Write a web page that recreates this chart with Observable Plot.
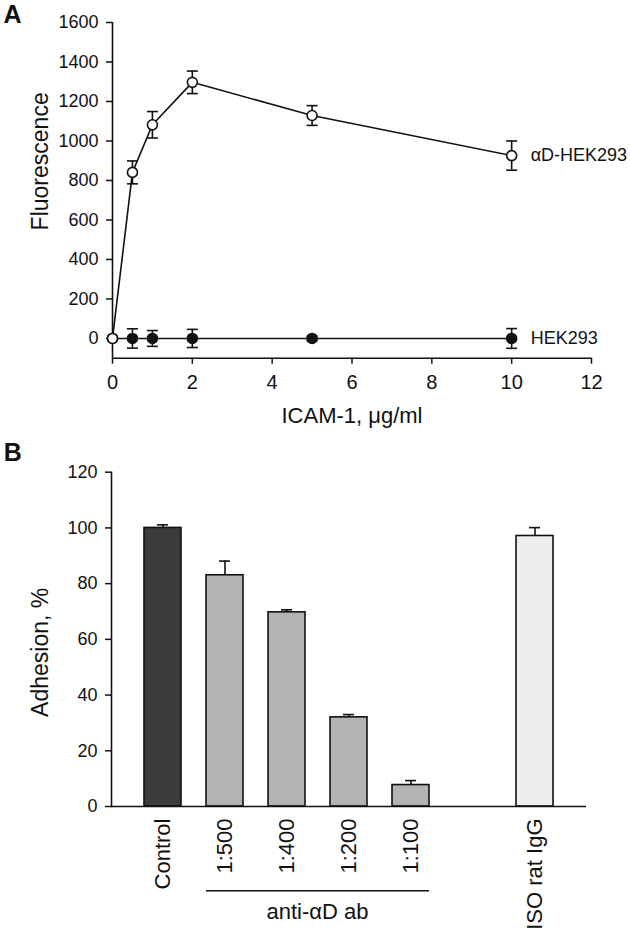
<!DOCTYPE html>
<html><head><meta charset="utf-8">
<script src="https://cdn.jsdelivr.net/npm/d3@7"></script>
<script src="https://cdn.jsdelivr.net/npm/@observablehq/plot@0.6"></script>
<style>
body{margin:0;background:#fff;}
#wrap{width:630px;}
#wrap svg{display:block;}
</style></head><body><div id="wrap"></div>
<script>
// ---------- Panel A data ----------
const concentration = [0, 0.5, 1, 2, 5, 10];
const adFluor = [0, 841, 1082, 1297, 1129, 926];
const adErr   = [8, 58, 67, 57, 50, 74];
const hekFluor = [0, 0, 0, 0, 0, 0];
const hekErr   = [8, 49, 40, 46, 12, 50];
const seriesNames = ["αD-HEK293", "HEK293"];
const xTicksA = [0, 2, 4, 6, 8, 10, 12];
const yTicksA = [0, 200, 400, 600, 800, 1000, 1200, 1400, 1600];

// ---------- Panel B data ----------
const groups = ["Control", "1:500", "1:400", "1:200", "1:100", "ISO rat IgG"];
const adhesion = [100, 83, 69.7, 32, 7.7, 97.1];
const adhesionErr = [1.1, 5.1, 0.9, 1.0, 1.6, 3.0];
const groupFill = ["#3b3b3b", "#b3b3b3", "#b3b3b3", "#b3b3b3", "#b3b3b3", "#eeeeee"];
const antibodyGroups = ["1:500", "1:400", "1:200", "1:100"];
const yTicksB = [0, 20, 40, 60, 80, 100, 120];

const FONT = "'Liberation Sans', Arial, Helvetica, sans-serif";
const INK = "#111";
const plain = d3.format("d");

const ad = concentration.map((x, i) => ({x, y: adFluor[i], e: adErr[i]}));
const hek = concentration.map((x, i) => ({x, y: hekFluor[i], e: hekErr[i]}));
const lastLabels = [
  {...ad[ad.length - 1], name: seriesNames[0]},
  {...hek[hek.length - 1], name: seriesNames[1]}
];

const cap = {draw(ctx, size) { const r = Math.sqrt(size / Math.PI); ctx.moveTo(-r, 0); ctx.lineTo(r, 0); }};

function seriesMarks(data, fill) {
  return [
    Plot.line(data, {x: "x", y: "y", stroke: INK, strokeWidth: 1.6}),
    Plot.ruleX(data, {x: "x", y1: d => d.y - d.e, y2: d => d.y + d.e, stroke: INK, strokeWidth: 1.6}),
    Plot.dot(data, {x: "x", y: d => d.y - d.e, symbol: cap, r: 5.5, fill: "none", stroke: INK, strokeWidth: 1.6}),
    Plot.dot(data, {x: "x", y: d => d.y + d.e, symbol: cap, r: 5.5, fill: "none", stroke: INK, strokeWidth: 1.6}),
    Plot.dot(data, {x: "x", y: "y", r: 5, fill, stroke: INK, strokeWidth: 1.6})
  ];
}

const chartA = Plot.plot({
  width: 630, height: 430,
  marginLeft: 112, marginRight: 39, marginTop: 22, marginBottom: 72.3,
  style: {fontFamily: FONT, color: INK, background: "#fff"},
  x: {domain: [0, 12]},
  y: {domain: [-100, 1600]},
  marks: [
    Plot.ruleX([0], {y1: -100, y2: 1600, stroke: INK, strokeWidth: 1.6}),
    Plot.ruleY([-100], {x1: 0, x2: 12, stroke: INK, strokeWidth: 1.6}),
    Plot.axisY({ticks: yTicksA, tickFormat: plain, tickSize: 6, tickPadding: 8, fontSize: 18, strokeWidth: 1.5, label: null}),
    Plot.axisX({ticks: xTicksA, tickFormat: plain, tickSize: 6, tickPadding: 11, fontSize: 20, strokeWidth: 1.5, label: null}),
    ...seriesMarks(hek, INK),
    ...seriesMarks(ad, "#fff"),
    Plot.text(lastLabels, {x: "x", y: "y", text: "name", dx: 19, textAnchor: "start", fontSize: 18, fill: INK}),
    Plot.text(["Fluorescence"], {frameAnchor: "left", textAnchor: "middle", lineAnchor: "middle", rotate: -90, dx: -72, dy: -29, fontSize: 23, fill: INK}),
    Plot.text(["ICAM-1, μg/ml"], {frameAnchor: "bottom", textAnchor: "middle", lineAnchor: "middle", dy: 57.5, fontSize: 22, fill: INK}),
    Plot.text(["A"], {frameAnchor: "top-left", lineAnchor: "top", textAnchor: "start", dx: -109, dy: -17, fontSize: 25, fontWeight: "bold", fill: INK})
  ]
});

const bars = groups.map((g, i) => ({g, v: adhesion[i], e: adhesionErr[i], fill: groupFill[i]}));
const xDomainB = [...groups.slice(0, 5), " ", groups[5]];

const chartB = Plot.plot({
  width: 630, height: 511,
  marginLeft: 111, marginRight: 44, marginTop: 41.7, marginBottom: 135,
  style: {fontFamily: FONT, color: INK, background: "#fff"},
  x: {domain: xDomainB, paddingInner: 0.4, paddingOuter: 0.523},
  y: {domain: [0, 120]},
  marks: [
    Plot.frame({anchor: "left", stroke: INK, strokeWidth: 1.6}),
    Plot.ruleX(bars, {x: "g", y1: "v", y2: d => d.v + d.e, stroke: INK, strokeWidth: 1.6}),
    Plot.tickY(bars, {x: "g", y: d => d.v + d.e, insetLeft: 13, insetRight: 13, stroke: INK, strokeWidth: 1.6}),
    Plot.barY(bars, {x: "g", y: "v", fill: "fill", stroke: INK, strokeWidth: 1.6}),
    Plot.ruleY([0], {stroke: INK, strokeWidth: 1.6}),
    Plot.axisY({ticks: yTicksB, tickFormat: plain, tickSize: 6, tickPadding: 8, fontSize: 18, strokeWidth: 1.5, label: null}),
    Plot.axisX({ticks: groups, tickSize: 0, tickPadding: 12, tickRotate: -90, fontSize: 22, label: null}),
    Plot.text(["Adhesion, %"], {frameAnchor: "left", textAnchor: "middle", lineAnchor: "middle", rotate: -90, dx: -71, dy: 13, fontSize: 23, fill: INK}),
    Plot.text(["B"], {frameAnchor: "top-left", lineAnchor: "top", textAnchor: "start", dx: -107.7, dy: -28.5, fontSize: 25, fontWeight: "bold", fill: INK})
  ]
});

// bracket under the antibody dilutions, placed with the plot's own x scale
(function () {
  const sx = chartB.scale("x");
  const xs = antibodyGroups.map(g => sx.apply(g));
  const left = Math.min(...xs), right = Math.max(...xs) + sx.bandwidth;
  const yBase = 511 - 135;
  const svg = d3.select(chartB);
  svg.append("line")
    .attr("x1", left).attr("x2", right)
    .attr("y1", yBase + 84.7).attr("y2", yBase + 84.7)
    .attr("stroke", INK).attr("stroke-width", 1.6);
  svg.append("text")
    .attr("x", (left + right) / 2).attr("y", yBase + 105.7)
    .attr("dy", "0.35em").attr("text-anchor", "middle")
    .attr("font-size", 22).attr("fill", INK)
    .text("anti-αD ab");
})();

const wrap = document.getElementById("wrap");
wrap.appendChild(chartA);
wrap.appendChild(chartB);
</script>
</body></html>
